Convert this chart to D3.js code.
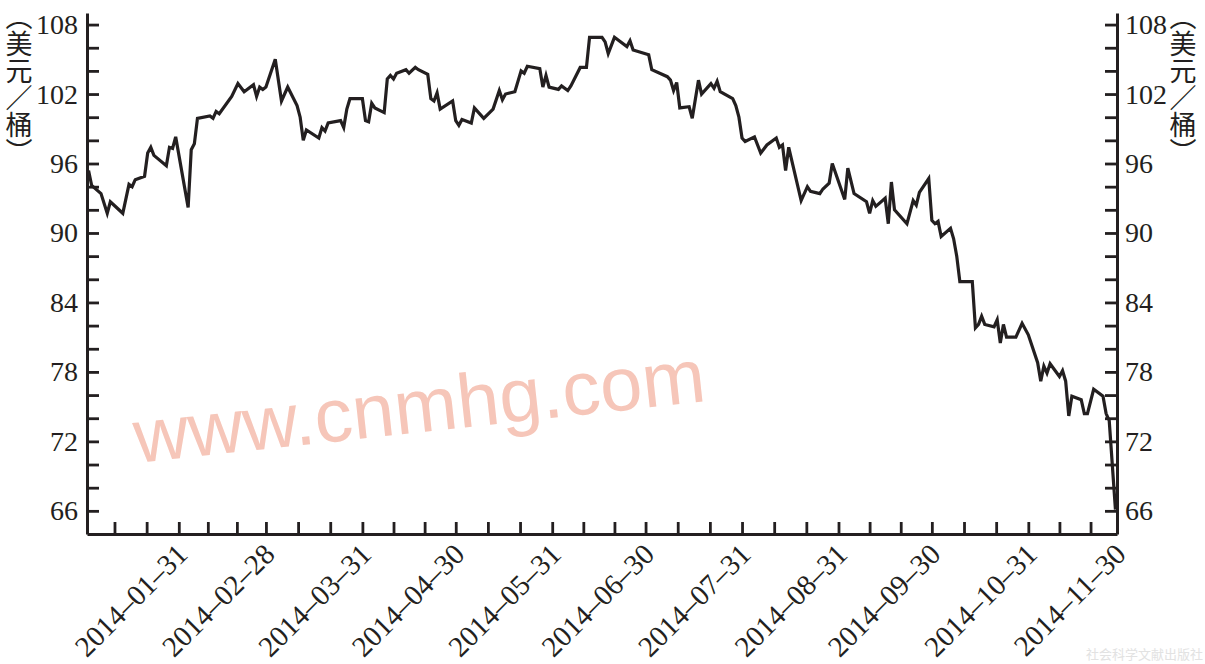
<!DOCTYPE html>
<html><head><meta charset="utf-8">
<script src="https://cdn.jsdelivr.net/npm/d3@7"></script>
<style>
html,body{margin:0;padding:0;background:#fff;}
svg{display:block;}
</style></head><body>
<svg id="chart" width="1205" height="664"></svg>
<script>
// ---- data ----
const dates = [
"2014-01-02","2014-01-03","2014-01-06","2014-01-08","2014-01-09","2014-01-13","2014-01-15","2014-01-16","2014-01-17","2014-01-20",
"2014-01-21","2014-01-22","2014-01-23","2014-01-27","2014-01-28","2014-01-29","2014-01-30","2014-02-03","2014-02-04","2014-02-05",
"2014-02-06","2014-02-10","2014-02-11","2014-02-12","2014-02-13","2014-02-17","2014-02-19","2014-02-21","2014-02-24","2014-02-25",
"2014-02-26","2014-02-27","2014-02-28","2014-03-03","2014-03-05","2014-03-07","2014-03-10","2014-03-11","2014-03-12","2014-03-13",
"2014-03-17","2014-03-18","2014-03-19","2014-03-20","2014-03-24","2014-03-25","2014-03-26","2014-03-27","2014-03-31","2014-04-01",
"2014-04-02","2014-04-03","2014-04-04","2014-04-07","2014-04-08","2014-04-09","2014-04-10","2014-04-11","2014-04-14","2014-04-15",
"2014-04-17","2014-04-18","2014-04-21","2014-04-22","2014-04-23","2014-04-24","2014-04-25","2014-04-29","2014-04-30","2014-05-01",
"2014-05-02","2014-05-05","2014-05-06","2014-05-09","2014-05-12","2014-05-14","2014-05-15","2014-05-16","2014-05-19","2014-05-21",
"2014-05-22","2014-05-23","2014-05-27","2014-05-28","2014-05-29","2014-05-30","2014-06-02","2014-06-03","2014-06-05","2014-06-06",
"2014-06-09","2014-06-11","2014-06-12","2014-06-16","2014-06-17","2014-06-18","2014-06-20","2014-06-24","2014-06-25","2014-06-26",
"2014-07-01","2014-07-02","2014-07-07","2014-07-08","2014-07-09","2014-07-10","2014-07-11","2014-07-14","2014-07-15","2014-07-17",
"2014-07-18","2014-07-21","2014-07-22","2014-07-23","2014-07-24","2014-07-28","2014-07-29","2014-07-30","2014-07-31","2014-08-01",
"2014-08-04","2014-08-06","2014-08-08","2014-08-11","2014-08-12","2014-08-13","2014-08-14","2014-08-15","2014-08-19","2014-08-21",
"2014-08-22","2014-08-25","2014-08-26","2014-08-28","2014-08-29","2014-09-02","2014-09-03","2014-09-05","2014-09-09","2014-09-10",
"2014-09-11","2014-09-12","2014-09-15","2014-09-16","2014-09-17","2014-09-18","2014-09-22","2014-09-24","2014-09-25","2014-09-26",
"2014-09-29","2014-09-30","2014-10-01","2014-10-02","2014-10-03","2014-10-06","2014-10-07","2014-10-08","2014-10-09","2014-10-10",
"2014-10-13","2014-10-14","2014-10-15","2014-10-16","2014-10-17","2014-10-20","2014-10-21","2014-10-22","2014-10-23","2014-10-24",
"2014-10-27","2014-10-29","2014-10-31","2014-11-03","2014-11-04","2014-11-05","2014-11-06","2014-11-07","2014-11-10","2014-11-11",
"2014-11-12","2014-11-13","2014-11-14","2014-11-17","2014-11-18","2014-11-19","2014-11-21","2014-11-24","2014-11-25","2014-11-26",
"2014-11-28"
];
const prices = [
95.4,94.1,93.4,91.7,92.7,91.7,94.2,94.0,94.6,94.9,
96.9,97.4,96.7,95.8,97.4,97.3,98.3,92.2,97.2,97.7,
99.9,100.1,99.9,100.5,100.3,101.8,102.9,102.2,102.8,101.8,
102.6,102.4,102.6,105.0,101.4,102.6,101.0,100.0,98.0,98.9,
98.2,99.1,98.8,99.5,99.7,99.1,100.7,101.6,101.6,99.7,
99.6,101.2,100.8,100.4,103.3,103.6,103.3,103.8,104.1,103.8,
104.3,104.1,103.7,101.6,101.4,102.1,100.7,101.4,99.7,99.3,
99.8,99.5,100.8,99.9,100.7,102.3,101.5,102.0,102.2,104.0,
103.8,104.4,104.2,102.6,103.6,102.6,102.4,102.7,102.3,102.7,
104.3,104.3,106.9,106.9,106.5,105.5,106.9,106.1,106.6,105.8,
105.4,104.1,103.5,103.2,102.3,103.0,100.8,100.9,99.9,103.2,
102.0,102.9,102.5,103.1,102.2,101.6,101.0,100.0,98.2,97.9,
98.3,96.9,97.6,98.2,97.4,97.6,95.4,97.4,92.8,94.0,
93.6,93.4,93.8,94.3,96.0,92.9,95.6,93.4,92.7,91.7,
92.8,92.3,93.0,90.8,94.4,92.0,90.8,92.8,92.4,93.5,
94.7,91.1,90.8,91.0,89.7,90.4,89.5,88.0,85.8,85.8,
85.8,81.8,82.1,82.8,82.1,81.9,82.5,80.5,82.1,81.0,
81.0,82.2,81.2,78.8,77.2,78.5,77.9,78.7,77.6,78.1,
77.2,74.2,75.9,75.6,74.4,74.4,76.5,75.9,74.4,73.8,
66.1
];
const monthEnds = ["2014-01-31","2014-02-28","2014-03-31","2014-04-30","2014-05-31","2014-06-30",
                   "2014-07-31","2014-08-31","2014-09-30","2014-10-31","2014-11-30"];
const yTicks = [66,68,70,72,74,76,78,80,82,84,86,88,90,92,94,96,98,100,102,104,106,108];
const yTickLabels = [66,72,78,84,90,96,102,108];
const unitLabel = "（美元／桶）";
const watermark = "www.cnmhg.com";
const publisher = "社会科学文献出版社";

// ---- chart ----
const ink = "#231f20";
const parse = d3.utcParse("%Y-%m-%d");
const data = dates.map((d, i) => ({date: parse(d), value: prices[i]}));

const svg = d3.select("#chart");
svg.append("rect").attr("width",1205).attr("height",664).attr("fill","#fff");

const x = d3.scaleUtc()
  .domain([new Date(Date.UTC(2014,0,1,12)), new Date(Date.UTC(2014,10,28,12))])
  .range([87,1117]).clamp(true);
const y = d3.scaleLinear().domain([64,109]).range([534,13]);

// watermark
svg.append("text")
  .attr("transform","translate(422,432) rotate(-6.2)")
  .attr("text-anchor","middle")
  .attr("font-family","'Liberation Sans', Arial, sans-serif")
  .attr("font-size",76)
  .attr("fill","#f6c6b9")
  .text(watermark);

// tick values: month ends plus thirds of each month
const endDates = monthEnds.map(parse);
const xTicks = [];
let prev = new Date(Date.UTC(2013,11,31));
endDates.forEach(e => {
  const span = e - prev;
  xTicks.push(new Date(+prev + span/3), new Date(+prev + 2*span/3), e);
  prev = e;
});
const endSet = new Set(endDates.map(d => +d));
const fmt = d3.utcFormat("%Y–%m–%d");

const serif = "'Liberation Serif','Times New Roman',serif";

// bottom axis
const gx = svg.append("g").attr("transform","translate(0,534)").attr("color",ink)
  .call(d3.axisBottom(x).tickValues(xTicks).tickSizeInner(-12).tickSizeOuter(0)
        .tickFormat(d => endSet.has(+d) ? fmt(d) : ""));
gx.selectAll("text")
  .attr("x",0).attr("y",0).attr("dy",0)
  .attr("text-anchor","end")
  .attr("transform","translate(10,22) rotate(-45)")
  .attr("font-family",serif).attr("font-size",29).attr("fill",ink);

// left axis
const gl = svg.append("g").attr("transform","translate(87,0)").attr("color",ink)
  .call(d3.axisLeft(y).tickValues(yTicks).tickSizeInner(-12).tickSizeOuter(0).tickPadding(9)
        .tickFormat(d => yTickLabels.includes(d) ? d : ""));
gl.selectAll("text").attr("font-family",serif).attr("font-size",28).attr("fill",ink);

// right axis
const gr = svg.append("g").attr("transform","translate(1117,0)").attr("color",ink)
  .call(d3.axisRight(y).tickValues(yTicks).tickSizeInner(-12).tickSizeOuter(0).tickPadding(8)
        .tickFormat(d => yTickLabels.includes(d) ? d : ""));
gr.selectAll("text").attr("font-family",serif).attr("font-size",28).attr("fill",ink);

svg.selectAll(".domain").attr("stroke-width",3);
svg.selectAll(".tick line").attr("stroke-width",2.8);

// price line
const line = d3.line().x(d => x(d.date)).y(d => y(d.value));
svg.append("path").datum(data)
  .attr("d",line).attr("fill","none").attr("stroke",ink)
  .attr("stroke-width",3.2).attr("stroke-linejoin","miter").attr("stroke-miterlimit",4);

// vertical unit labels
[19,1183].forEach(cx => {
  svg.append("text")
    .attr("x",cx).attr("y",3)
    .style("writing-mode","vertical-rl")
    .attr("font-family","'Noto Sans CJK SC',sans-serif")
    .attr("font-size",27).attr("fill",ink)
    .text(unitLabel);
});

// publisher mark
svg.append("text")
  .attr("x",1203).attr("y",659).attr("text-anchor","end")
  .attr("font-family","'Noto Sans CJK SC',sans-serif")
  .attr("font-size",13).attr("fill","#e2e2e2")
  .text(publisher);
</script>
</body></html>
